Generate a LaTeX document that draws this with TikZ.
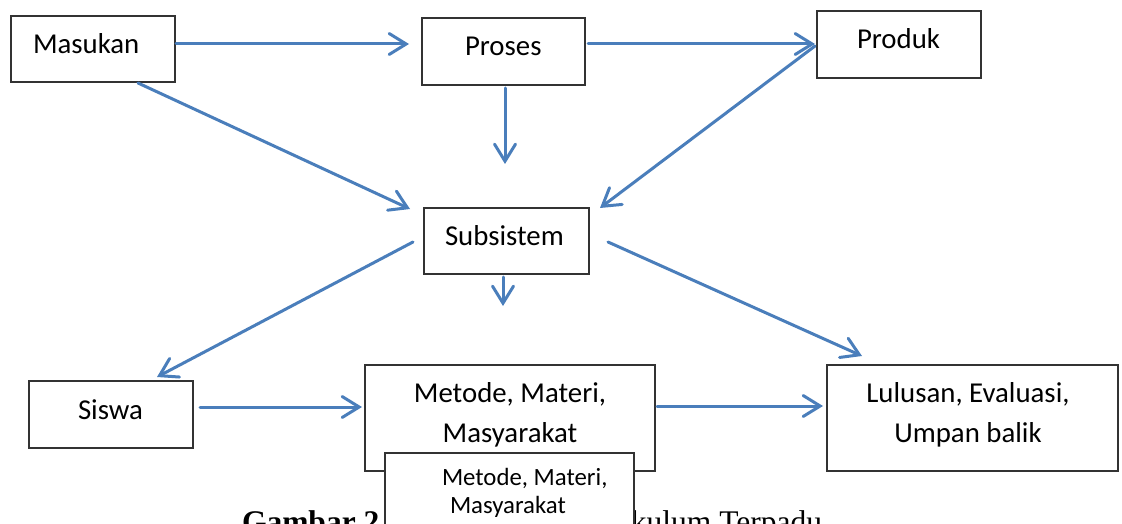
\documentclass[tikz,border=0pt]{standalone}
\usepackage{fontspec}
\setmainfont{Carlito}
\newfontfamily\capfont{Liberation Serif}
\usetikzlibrary{arrows.meta}
\definecolor{arrblue}{HTML}{4A7EBB}
\definecolor{boxline}{HTML}{333333}
\tikzset{
  box/.style={draw=boxline, line width=1.8pt, fill=white, inner sep=0pt, outer sep=0pt},
  lbl/.style={inner sep=0pt, outer sep=0pt, font=\fontsize{28.8}{40}\selectfont},
  lblsmall/.style={inner sep=0pt, outer sep=0pt, font=\fontsize{24.8}{28}\selectfont},
  captxt/.style={inner sep=0pt, outer sep=0pt},
  arr/.style={draw=arrblue, line width=3pt, line cap=round,
    -{Straight Barb[length=17pt, width=21pt, line cap=round]}},
}
\begin{document}
\begin{tikzpicture}[x=1pt, y=-1pt]
\useasboundingbox (0,0) rectangle (1122,524);
% boxes
\node[box, minimum width=164pt, minimum height=66pt] (masukan) at (93,49) {};
\node[box, minimum width=163pt, minimum height=67pt] (proses) at (503.5,51.5) {};
\node[box, minimum width=164pt, minimum height=67pt] (produk) at (899,44.5) {};
\node[box, minimum width=165pt, minimum height=66pt] (subsistem) at (506.5,241) {};
\node[box, minimum width=164pt, minimum height=67pt] (siswa) at (111,414.5) {};
\node[box, minimum width=290pt, minimum height=106pt] (metode) at (510,418) {};
\node[box, minimum width=291pt, minimum height=106pt] (lulusan) at (972.5,418) {};
% texts
\node[lbl, anchor=base west] (masukanT) at (33,54) {Masukan};
\node[lbl, anchor=base west] (prosesT) at (465,56) {Proses};
\node[lbl, anchor=base west] (produkT) at (857,49) {Produk};
\node[lbl, anchor=base west] (subsistemT) at (445,245) {Subsistem};
\node[lbl, anchor=base west] (siswaT) at (78,419) {Siswa};
\node[lbl, anchor=base, align=center] (metodeT) at (510,442) {Metode, Materi,\\Masyarakat};
\node[lbl, anchor=base, align=center] (lulusanT) at (968,442) {Lulusan, Evaluasi,\\Umpan balik};
% caption
\node[captxt, anchor=base west, font=\capfont\bfseries\fontsize{31.5}{36}\selectfont] (capA) at (242,532) {Gambar 2};
\node[captxt, anchor=base east, font=\capfont\fontsize{31.5}{36}\selectfont] (capB) at (822,532) {kulum Terpadu};
% overlay box
\node[box, minimum width=249pt, minimum height=90pt] (overlay) at (509.5,498) {};
\node[lblsmall, anchor=base west] (overT1) at (442,485) {Metode, Materi,};
\node[lblsmall, anchor=base west] (overT2) at (450,513) {Masyarakat};
% connector ends
\coordinate (c1s) at (176,44);  \coordinate (c1e) at (409,44);
\coordinate (c2s) at (588,44);  \coordinate (c2e) at (815,44);
\coordinate (c3s) at (138,83);  \coordinate (c3e) at (410,209);
\coordinate (c4s) at (505,88);  \coordinate (c4e) at (505,164);
\coordinate (c5s) at (815,46);  \coordinate (c5e) at (600,208);
\coordinate (c6s) at (503,277); \coordinate (c6e) at (503,306);
\coordinate (c7s) at (413,242); \coordinate (c7e) at (157,377);
\coordinate (c8s) at (608,242); \coordinate (c8e) at (862,356);
\coordinate (c9s) at (200,407); \coordinate (c9e) at (362,407);
\coordinate (c10s) at (657,406); \coordinate (c10e) at (823,406);
\draw[arr] (c1s) -- (c1e);
\draw[arr] (c2s) -- (c2e);
\draw[arr] (c3s) -- (c3e);
\draw[arr] (c4s) -- (c4e);
\draw[arr] (c5s) -- (c5e);
\draw[arr] (c6s) -- (c6e);
\draw[arr] (c7s) -- (c7e);
\draw[arr] (c8s) -- (c8e);
\draw[arr] (c9s) -- (c9e);
\draw[arr] (c10s) -- (c10e);
\end{tikzpicture}
\end{document}
